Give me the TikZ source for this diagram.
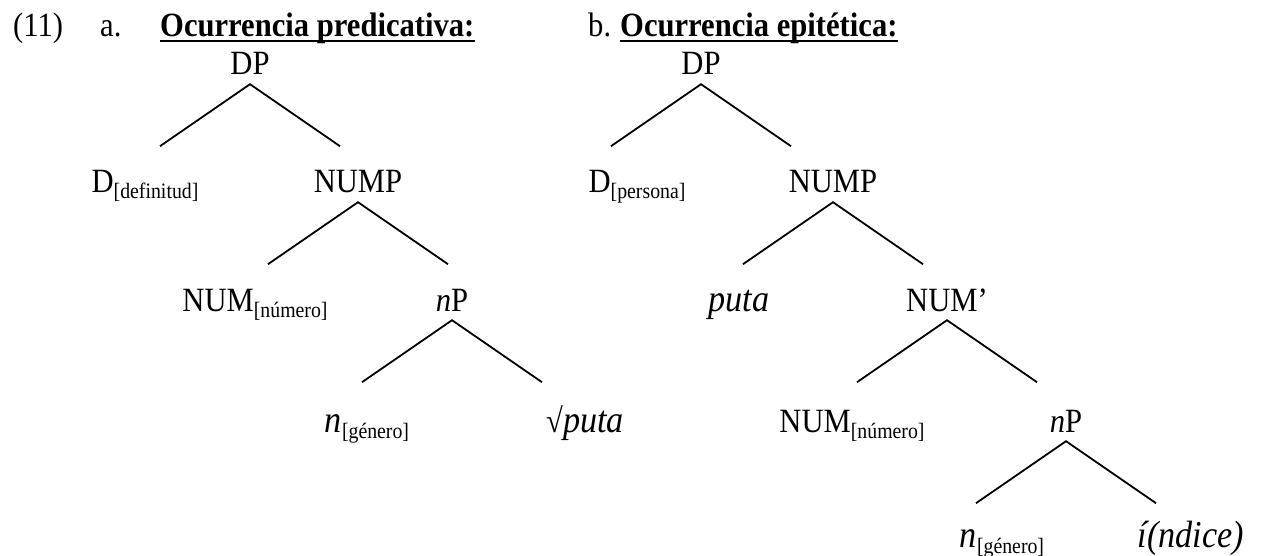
\documentclass[tikz,border=0pt]{standalone}
\usepackage{fontspec}
\setmainfont{Liberation Serif}[FakeStretch=0.9]
\usetikzlibrary{positioning}

\newcommand{\subtxt}[1]{\raisebox{-6pt}{\fontsize{22}{26}\selectfont #1}}
\newcommand{\bigit}[1]{{\fontsize{38}{44}\selectfont\itshape #1}}

\tikzset{
  lbl/.style={anchor=base, inner sep=0pt, text depth=9pt, font=\fontsize{34}{40}\selectfont},
  head/.style={lbl, anchor=base west},
  brch/.style={line width=1.8pt},
  ul/.style={line width=1.6pt}
}

\begin{document}
\begin{tikzpicture}[x=1pt, y=-1pt]
    \useasboundingbox (0,0) rectangle (1267,556);

    % Heading
    \node[head] (ex) at (13,37) {(11)};
    \node[head] (ia) at (100,37) {a.};
    \node[head, font=\fontsize{34}{40}\selectfont\bfseries] (titA) at (160,37) {Ocurrencia predicativa:};
    \node[head] (ib) at (588,37) {b.};
    \node[head, font=\fontsize{34}{40}\selectfont\bfseries] (titB) at (620,37) {Ocurrencia epitética:};
    \draw[ul] ([yshift=-4pt]titA.base west) -- ([yshift=-4pt]titA.base east);
    \draw[ul] ([yshift=-4pt]titB.base west) -- ([yshift=-4pt]titB.base east);

    % Tree a
    \node[lbl] (DPa) at (250,75) {DP};
    \node[lbl] (Da) at (145,193) {D\subtxt{[definitud]}};
    \node[lbl] (NUMPa) at (358,193) {NUMP};
    \node[lbl] (NUMa) at (255,311) {NUM\subtxt{[número]}};
    \node[lbl] (nPa) at (452,311) {\textit{n}P};
    \node[lbl] (na) at (367,432) {\bigit{n}\subtxt{[género]}};
    \node[lbl] (rta) at (585,432) {√\bigit{puta}};

    % Tree b
    \node[lbl] (DPb) at (701,75) {DP};
    \node[lbl] (Db) at (637,193) {D\subtxt{[persona]}};
    \node[lbl] (NUMPb) at (833,193) {NUMP};
    \node[lbl] (putab) at (739,311) {\bigit{puta}};
    \node[lbl] (NUMbar) at (947,311) {NUM’};
    \node[lbl] (NUMb) at (852,432) {NUM\subtxt{[número]}};
    \node[lbl] (nPb) at (1066,432) {\textit{n}P};
    \node[lbl] (nb) at (1002,547) {\bigit{n}\subtxt{[género]}};
    \node[lbl] (idx) at (1191,547) {\bigit{í(ndice)}};

    % Branches
    \foreach \p in {DPa,NUMPa,nPa,DPb,NUMPb,NUMbar,nPb} {
        \coordinate[below left=62pt and 90pt of \p.south] (\p-l);
        \coordinate[below right=62pt and 90pt of \p.south] (\p-r);
        \draw[brch] (\p-l) -- (\p.south) -- (\p-r);
    }
\end{tikzpicture}
\end{document}
